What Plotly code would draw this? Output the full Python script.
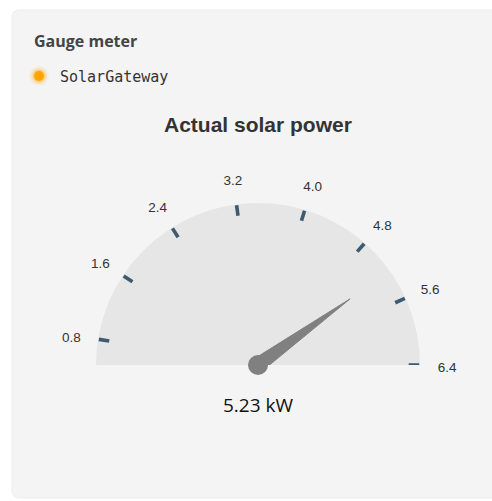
import plotly.graph_objects as go

# ---- data -------------------------------------------------------------
series_name = "SolarGateway"
value = 5.23
unit = "kW"
scale_min = 0.5
scale_max = 6.4
tick_values = [0.8, 1.6, 2.4, 3.2, 4.0, 4.8, 5.6, 6.4]
tick_labels = ["0.8", "1.6", "2.4", "3.2", "4.0", "4.8", "5.6", "6.4"]

# ---- page geometry (pixels) --------------------------------------------
W, H = 492, 501


def px(x):
    return x / W


def py(y):
    return 1 - y / H


def to_theta(v):
    """Map a gauge value onto the half-circle (0 deg = left, 180 deg = right)."""
    return (v - scale_min) / (scale_max - scale_min) * 180.0


tick_thetas = [to_theta(v) for v in tick_values]
needle_theta = to_theta(value)

ARC = "#e6e6e6"
NEEDLE = "#808080"
TICK = "#3d5a6e"
LABEL_FONT = "Liberation Sans, Arial, sans-serif"

FACE_R = 1.0          # radius of the gauge face (radial units)
R_MAX = 1.2           # radial range, leaves room for the labels

fig = go.Figure()

# gauge face: one half-disc bar
fig.add_trace(go.Barpolar(
    r=[FACE_R], theta=[90], width=[180], base=0,
    marker=dict(color=ARC, line=dict(width=0)),
    hoverinfo="skip", showlegend=False,
))

# tick marks just inside the rim
tick_r, tick_t = [], []
for t in tick_thetas:
    tick_r += [0.93, 0.995, None]
    tick_t += [t, t, None]
fig.add_trace(go.Scatterpolar(
    r=tick_r, theta=tick_t, mode="lines",
    line=dict(color=TICK, width=3.6),
    connectgaps=False, cliponaxis=False,
    hoverinfo="skip", showlegend=False,
))

# needle: tapered polygon from the hub to the value
fig.add_trace(go.Scatterpolar(
    r=[0.70, 0.045, 0.045, 0.70],
    theta=[needle_theta, needle_theta + 90, needle_theta - 90, needle_theta],
    mode="lines", fill="toself", fillcolor=NEEDLE,
    line=dict(color=NEEDLE, width=1),
    cliponaxis=False, hoverinfo="skip", showlegend=False,
))
# needle hub
fig.add_trace(go.Scatterpolar(
    r=[0], theta=[0], mode="markers",
    marker=dict(size=20, color=NEEDLE),
    cliponaxis=False, hoverinfo="skip", showlegend=False,
))

# scale labels around the face (own polar, nudged down to sit on the text baseline)
fig.add_trace(go.Scatterpolar(
    r=[1.167] * len(tick_values), theta=tick_thetas,
    mode="text", text=tick_labels,
    textfont=dict(family=LABEL_FONT, size=13.5, color="#333333"),
    cliponaxis=False, hoverinfo="skip", showlegend=False,
    subplot="polar2",
))

cx, cy, R = 258, 365, 162 * R_MAX
label_dy = 4
axis_common = dict(
    sector=[0, 180],
    bgcolor="rgba(0,0,0,0)",
    bargap=0,
    radialaxis=dict(visible=False, range=[0, R_MAX]),
    angularaxis=dict(
        rotation=180, direction="clockwise",
        showticklabels=False, ticks="", showline=False, showgrid=False,
    ),
)
fig.update_layout(
    width=W, height=H,
    margin=dict(l=0, r=0, t=0, b=0),
    paper_bgcolor="#ffffff",
    showlegend=False,
    polar=dict(domain=dict(x=[px(cx - R), px(cx + R)], y=[py(cy), py(cy - R)]),
               **axis_common),
    polar2=dict(domain=dict(x=[px(cx - R), px(cx + R)],
                            y=[py(cy + label_dy), py(cy - R + label_dy)]),
                **axis_common),
)

# card background with rounded corners
x0, y0, x1, y1, rc = 12, 10, 500, 498, 8
card_path = (
    f"M {px(x0 + rc)},{py(y0)} L {px(x1 - rc)},{py(y0)} "
    f"Q {px(x1)},{py(y0)} {px(x1)},{py(y0 + rc)} "
    f"L {px(x1)},{py(y1 - rc)} Q {px(x1)},{py(y1)} {px(x1 - rc)},{py(y1)} "
    f"L {px(x0 + rc)},{py(y1)} Q {px(x0)},{py(y1)} {px(x0)},{py(y1 - rc)} "
    f"L {px(x0)},{py(y0 + rc)} Q {px(x0)},{py(y0)} {px(x0 + rc)},{py(y0)} Z"
)
fig.add_shape(type="path", path=card_path, xref="paper", yref="paper",
              fillcolor="#f4f4f4", line=dict(color="#ececec", width=1),
              layer="below")

# legend dot with soft glow
for rad, op in [(10, 0.08), (8, 0.16), (6.5, 0.3), (5, 1.0)]:
    fig.add_shape(type="circle", xref="paper", yref="paper",
                  x0=px(39 - rad), x1=px(39 + rad), y0=py(76 + rad), y1=py(76 - rad),
                  fillcolor="#ffa500", opacity=op, line=dict(width=0))

fig.add_annotation(x=px(32), y=py(41), xref="paper", yref="paper",
                   text="<b>Gauge meter</b>", showarrow=False,
                   xanchor="left", yanchor="middle",
                   font=dict(family="Open Sans, sans-serif", size=16,
                             color="#444444"))
fig.add_annotation(x=px(58), y=py(77), xref="paper", yref="paper",
                   text=series_name, showarrow=False,
                   xanchor="left", yanchor="middle",
                   font=dict(family="DejaVu Sans Mono, monospace", size=15,
                             color="#333333"))
fig.add_annotation(x=px(258), y=py(124), xref="paper", yref="paper",
                   text="<b>Actual solar power</b>", showarrow=False,
                   xanchor="center", yanchor="middle",
                   font=dict(family=LABEL_FONT, size=21, color="#333333"))
fig.add_annotation(x=px(258), y=py(405), xref="paper", yref="paper",
                   text=f"{value:.2f} {unit}", showarrow=False,
                   xanchor="center", yanchor="middle",
                   font=dict(family="Open Sans, sans-serif", size=19,
                             color="#111111"))

fig.write_html("out.html")
